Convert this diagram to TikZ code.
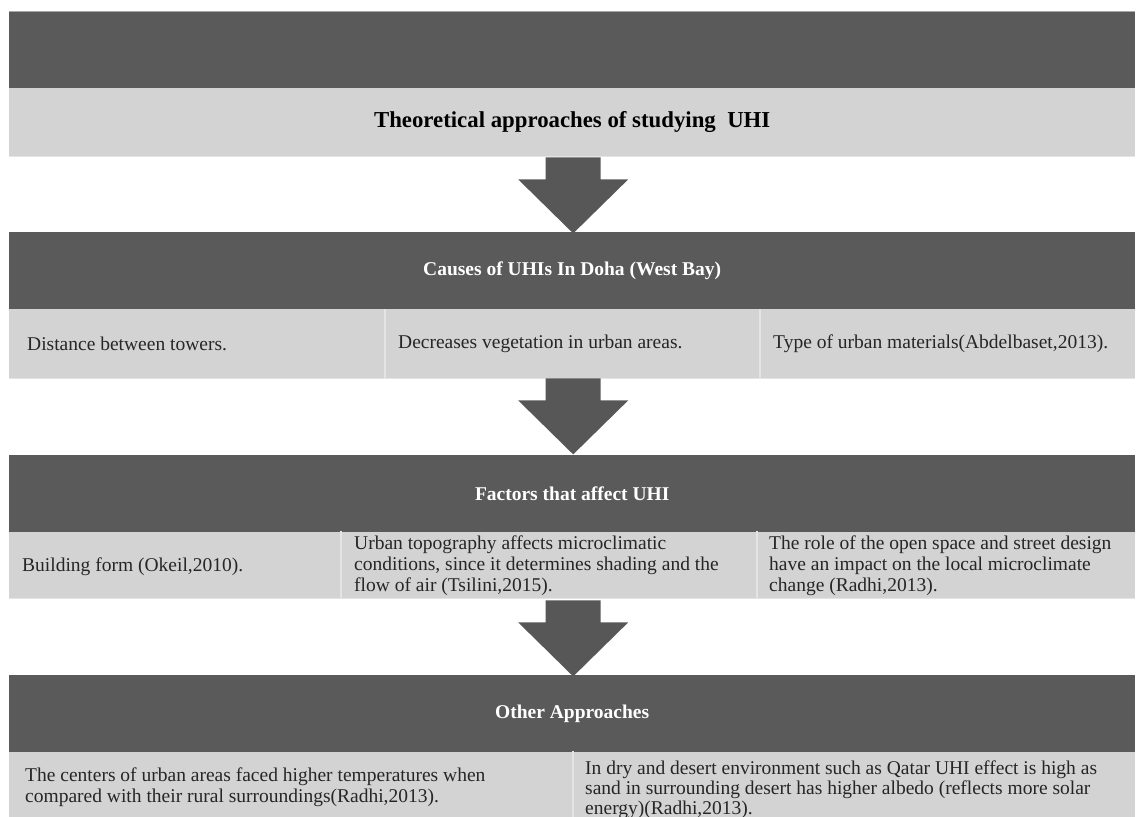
\documentclass[tikz,border=0pt]{standalone}
\usepackage{fontspec}
\setmainfont{Liberation Serif}
\usetikzlibrary{calc}
\definecolor{barDark}{HTML}{5A5A5A}
\definecolor{barLight}{HTML}{D3D3D3}
\definecolor{arrowFill}{HTML}{575757}
\definecolor{seam}{HTML}{E4E4E4}
\definecolor{rim}{HTML}{A8A8A8}
\begin{document}
\begin{tikzpicture}[x=1pt,y=-1pt,
  headbar/.style={fill=barDark, text=white, anchor=north west, inner sep=0pt,
    minimum width=1126pt, minimum height=77pt,
    font=\bfseries\fontsize{19.5}{21}\selectfont},
  titlebar/.style={fill=barLight, text=black, anchor=north west, inner sep=0pt,
    minimum width=1126pt, minimum height=68pt,
    font=\bfseries\fontsize{22.8}{24}\selectfont},
  body/.style={anchor=west, inner sep=0pt, align=left, text=black!85,
    font=\fontsize{19.5}{21}\selectfont},
  lightrow/.style={fill=barLight},
  divider/.style={draw=seam, line width=1.6pt},
  toprim/.style={draw=rim, line width=0.8pt},
  blockarrow/.pic={\fill[arrowFill] (-27.5,0) -- (27.5,0) -- (27.5,22) -- (55,22)
    -- (0,76) -- (-55,22) -- (-27.5,22) -- cycle;}]
\useasboundingbox (0,0) rectangle (1136,817);

% --- Title block
\node[headbar] (b1) at (9,11) {};
\draw[toprim] (b1.north west) -- (b1.north east);
\node[titlebar] (t1) at (9,88) {Theoretical approaches of studying\ \ UHI};
\draw[seam, line width=0.8pt] (t1.south west) -- (t1.south east);

\pic at ($(t1.south)+(1,1)$) {blockarrow};

% --- Causes
\node[headbar] (b2) at (9,232) {Causes of UHIs In Doha (West Bay)};
\fill[lightrow] (b2.south west) rectangle (1135,378);
\draw[divider] (385,309) -- (385,378);
\draw[divider] (760,309) -- (760,378);
\draw[seam, line width=0.8pt] (9,378) -- (1135,378);
\node[body] (c21) at (27,344) {Distance between towers.};
\node[body] (c22) at (398,344) {Decreases vegetation in urban areas.};
\node[body] (c23) at (773,344) {Type of urban materials(Abdelbaset,2013).};
\coordinate (a2) at ($(b2.south)+(1,69)$);
\pic at (a2) {blockarrow};

% --- Factors
\node[headbar] (b3) at (9,455) {Factors that affect UHI};
\fill[lightrow] (b3.south west) rectangle (1135,598);
\draw[divider] (341,531) -- (341,598);
\draw[divider] (757,531) -- (757,598);
\draw[seam, line width=0.8pt] (9,598) -- (1135,598);
\node[body] (c31) at (22,567) {Building form (Okeil,2010).};
\node[body] (c32) at (354,566) {Urban topography affects microclimatic\\conditions, since it determines shading and the\\flow of air (Tsilini,2015).};
\node[body] (c33) at (769,566) {The role of the open space and street design\\have an impact on the local microclimate\\change (Radhi,2013).};
\coordinate (a3) at ($(b3.south)+(1,68)$);
\pic at (a3) {blockarrow};

% --- Other approaches
\node[headbar] (b4) at (9,675) {Other Approaches};
\fill[lightrow] (b4.south west) rectangle (1135,830);
\draw[divider] (573,751) -- (573,830);
\node[body] (c41) at (25,787) {The centers of urban areas faced higher temperatures when\\compared with their rural surroundings(Radhi,2013).};
\node[body, font=\fontsize{19.5}{20}\selectfont] (c42) at (585,790) {In dry and desert environment such as Qatar UHI effect is high as\\sand in surrounding desert has higher albedo (reflects more solar\\energy)(Radhi,2013).};
\end{tikzpicture}
\end{document}
